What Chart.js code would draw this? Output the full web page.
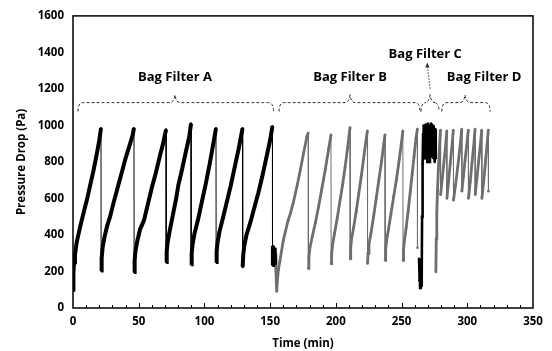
<!DOCTYPE html>
<html>
<head>
<meta charset="utf-8">
<script src="https://cdn.jsdelivr.net/npm/chart.js@4/dist/chart.umd.min.js"></script>
<style>
  html, body { margin: 0; padding: 0; background: #fff; }
  #wrap { width: 552px; height: 351px; }
</style>
</head>
<body>
<div id="wrap"><canvas id="chart" width="552" height="351"></canvas></div>
<script>
// Bag filter A (black)
const timeA = [0, 0.3, 0.8, 1.5, 2.8, 5.3, 8, 10.4, 13, 15.5, 18, 20, 21.3,
  21.4, 21.8, 22.5, 24, 26, 28.2, 31, 34, 37, 40, 43, 45.5, 46.4,
  46.5, 46.9, 47.5, 49, 51, 54, 57, 60, 63, 66, 68.5, 70.8,
  70.9, 71.3, 72, 73.5, 76, 78.5, 80.2, 83, 86, 88.5, 89.8,
  89.9, 90.3, 91, 92.5, 95, 98, 101, 104, 106.5, 108.8,
  108.9, 109.3, 110, 111.5, 114, 117, 120, 123, 126, 129,
  129.1, 129.5, 130.3, 132, 135, 138, 141, 144, 147, 150, 151.7,
  151.8, 152.1, 152.5, 153, 153.4, 153.6, 153.8];
const pressureA = [100, 190, 250, 290, 360, 440, 520, 587, 670, 750, 840, 920, 985,
  206, 270, 330, 390, 450, 500, 580, 660, 740, 820, 890, 950, 985,
  197, 260, 310, 370, 430, 480, 570, 660, 740, 830, 900, 977,
  252, 310, 360, 420, 510, 600, 675, 760, 860, 940, 1010,
  239, 300, 350, 410, 480, 580, 680, 790, 890, 984,
  252, 310, 360, 420, 490, 580, 670, 770, 870, 984,
  225, 290, 340, 400, 470, 550, 630, 720, 820, 920, 995,
  235, 340, 300, 330, 250, 310, 240];

// Bag filter B (grey)
const timeB = [153.8, 154.4, 155, 155.5, 156.3, 157.5, 160, 163.6, 165.5, 167.7, 170.5, 172.8, 175.5, 178, 179,
  179.1, 179.5, 180.3, 182, 184.5, 187, 189.5, 192, 194.5, 196.3,
  196.4, 196.8, 197.6, 199, 201, 203, 205, 207, 209, 210.8,
  210.9, 211.3, 212, 213.5, 215.5, 217.5, 219.5, 221.5, 223, 224,
  224.1, 224.5, 225.2, 226.7, 228.7, 230.7, 232.7, 234.7, 236.5, 237.4,
  237.5, 237.9, 238.6, 240, 242, 244, 246, 248, 250, 251,
  251.1, 251.5, 252.2, 253.5, 255, 256.5, 258, 259.5, 261, 262,
  262.1];
const pressureB = [300, 200, 90, 150, 210, 261, 370, 478, 520, 580, 670, 750, 850, 940, 958,
  217, 280, 330, 390, 470, 560, 660, 760, 870, 949,
  243, 300, 350, 410, 490, 580, 670, 770, 880, 989,
  270, 330, 380, 440, 530, 630, 730, 840, 920, 971,
  244, 300, 350, 410, 500, 600, 700, 800, 900, 949,
  261, 320, 370, 430, 520, 610, 700, 800, 910, 971,
  261, 320, 370, 440, 530, 630, 730, 830, 930, 980,
  330];

// Bag filter C (black)
const timeC = [263.3, 263.6, 263.9, 264.1, 264.4, 264.7, 265, 265.3, 265.6, 266, 266.4, 266.8,
  267.2, 267.6, 268, 268.4, 268.8, 269.2, 269.6, 270, 270.4, 270.8, 271.2, 271.6,
  272, 272.4, 272.8, 273.2, 273.6, 274, 274.4, 274.8, 275.2, 275.6, 276];
const pressureC = [270, 150, 240, 110, 200, 130, 260, 120, 500, 790, 950, 1000,
  850, 980, 820, 1005, 860, 990, 800, 1010, 840, 970, 800, 1000,
  870, 1010, 830, 990, 850, 1000, 820, 960, 800, 980, 820];

// Bag filter D (grey)
const timeD = [276.1, 276.4, 276.8, 277.3, 278, 278.8, 279.6,
  279.7, 280.8, 282, 283.3, 284.4,
  284.5, 285.7, 287, 288.3, 289.4,
  289.5, 291, 292.7, 294.3, 295.8,
  295.9, 297, 298.3, 299.6, 300.8,
  300.9, 302.2, 303.5, 304.8, 305.9,
  306, 307.3, 308.6, 309.9, 311,
  311.1, 312.4, 313.7, 315, 316, 316.1];
const pressureD = [197, 380, 520, 640, 760, 870, 975,
  620, 700, 780, 870, 970,
  600, 690, 790, 880, 975,
  590, 670, 770, 870, 980,
  640, 720, 810, 890, 975,
  600, 690, 790, 880, 980,
  620, 710, 800, 890, 975,
  600, 690, 790, 890, 975, 640];

const xTicks = [0, 50, 100, 150, 200, 250, 300, 350];
const yTicks = [0, 200, 400, 600, 800, 1000, 1200, 1400, 1600];

// brace annotations (data units)
const braces = [
  { from: 3.8, to: 152.5, mid: 77.6, label: "Bag Filter A", lx: 77.6, ly: 1261 },
  { from: 156.8, to: 264, mid: 210.8, label: "Bag Filter B", lx: 210.8, ly: 1261 },
  { from: 264.8, to: 278.5, mid: 271.7, label: "Bag Filter C", lx: 268, ly: 1391 },
  { from: 280.6, to: 317.4, mid: 298.3, label: "Bag Filter D", lx: 312.8, ly: 1261 },
];

const FONT = "'Open Sans', 'DejaVu Sans', sans-serif";

const zip = (xs, ys) => xs.map((x, i) => ({ x, y: ys[i] }));

const series = (data, color, width) => ({
  data,
  showLine: true,
  borderColor: color,
  backgroundColor: color,
  borderWidth: width,
  pointRadius: 1.3,
  pointBorderWidth: 0,
  pointHoverRadius: 0,
  tension: 0,
  segment: {
    // the resets (big drops) are thin lines
    borderWidth: (ctx) => (ctx.p0.parsed.y - ctx.p1.parsed.y > 250 ? 1 : width),
  },
});

const extras = {
  id: "extras",
  afterDraw(chart) {
    const { ctx, chartArea: a, scales } = chart;
    const xs = scales.x, ys = scales.y;
    ctx.save();

    // frame
    ctx.strokeStyle = "#000";
    ctx.lineWidth = 1.5;
    ctx.strokeRect(a.left, a.top, a.right - a.left, a.bottom - a.top);

    // inside x ticks every 10 min
    ctx.lineWidth = 1;
    for (let t = 10; t < 350; t += 10) {
      const px = Math.round(xs.getPixelForValue(t)) + 0.5;
      const len = t % 50 === 0 ? 5 : 3;
      ctx.beginPath();
      ctx.moveTo(px, a.bottom);
      ctx.lineTo(px, a.bottom - len);
      ctx.stroke();
    }

    // braces
    const yL = ys.getPixelForValue(1125);
    ctx.strokeStyle = "#333";
    ctx.lineWidth = 1;
    ctx.setLineDash([3, 2]);
    braces.forEach((b) => {
      const x0 = xs.getPixelForValue(b.from);
      const x1 = xs.getPixelForValue(b.to);
      const xm = xs.getPixelForValue(b.mid);
      const r = 5;
      ctx.beginPath();
      ctx.moveTo(x0, yL + 9);
      ctx.quadraticCurveTo(x0, yL, x0 + r, yL);
      ctx.lineTo(xm - r, yL);
      ctx.quadraticCurveTo(xm - 1, yL, xm, yL - 8);
      ctx.quadraticCurveTo(xm + 1, yL, xm + r, yL);
      ctx.lineTo(x1 - r, yL);
      ctx.quadraticCurveTo(x1, yL, x1, yL + 9);
      ctx.stroke();
    });

    // dotted arrow to "Bag Filter C"
    const ax0 = xs.getPixelForValue(271.7), ay0 = ys.getPixelForValue(1201);
    const ax1 = xs.getPixelForValue(269.6), ay1 = ys.getPixelForValue(1345);
    ctx.setLineDash([1.5, 1.5]);
    ctx.beginPath();
    ctx.moveTo(ax0, ay0);
    ctx.lineTo(ax1, ay1 + 3);
    ctx.stroke();
    ctx.setLineDash([]);
    ctx.fillStyle = "#333";
    ctx.beginPath();
    ctx.moveTo(ax1, ay1);
    ctx.lineTo(ax1 - 2.2, ay1 + 5);
    ctx.lineTo(ax1 + 2.2, ay1 + 5);
    ctx.closePath();
    ctx.fill();

    // labels
    ctx.fillStyle = "#000";
    ctx.font = "bold 13px " + FONT;
    ctx.textAlign = "center";
    ctx.textBaseline = "middle";
    braces.forEach((b) => {
      ctx.fillText(b.label, xs.getPixelForValue(b.lx), ys.getPixelForValue(b.ly));
    });
    ctx.restore();
  },
};

new Chart(document.getElementById("chart"), {
  type: "scatter",
  data: {
    datasets: [
      series(zip(timeA, pressureA), "#000000", 4),
      series(zip(timeB, pressureB), "#6e6e6e", 2.8),
      series(zip(timeC, pressureC), "#000000", 2.6),
      series(zip(timeD, pressureD), "#6e6e6e", 2.8),
    ],
  },
  options: {
    responsive: false,
    animation: false,
    layout: { padding: { top: 13, right: 19, left: 0, bottom: 0 } },
    plugins: { legend: { display: false }, tooltip: { enabled: false } },
    scales: {
      x: {
        type: "linear",
        min: 0,
        max: 350,
        afterBuildTicks: (s) => { s.ticks = xTicks.map((v) => ({ value: v })); },
        afterFit: (s) => { s.height = 43; },
        grid: { display: false, drawTicks: false },
        border: { display: false },
        ticks: {
          color: "#000",
          padding: 7,
          callback: (v) => String(v),
          font: { family: FONT, size: 11.5, weight: "bold" },
        },
        title: {
          display: true,
          text: "Time (min)",
          color: "#000",
          padding: { top: 0, bottom: 0 },
          font: { family: FONT, size: 11.5, weight: "bold" },
        },
      },
      y: {
        min: 0,
        max: 1600,
        afterBuildTicks: (s) => { s.ticks = yTicks.map((v) => ({ value: v })); },
        afterFit: (s) => { s.width = 73; },
        grid: { display: false, drawTicks: false },
        border: { display: false },
        ticks: {
          color: "#000",
          padding: 9,
          callback: (v) => String(v),
          font: { family: FONT, size: 11.5, weight: "bold" },
        },
        title: {
          display: true,
          text: "Pressure Drop (Pa)",
          color: "#000",
          padding: { top: 15, bottom: 0 },
          font: { family: FONT, size: 11.5, weight: "bold" },
        },
      },
    },
  },
  plugins: [extras],
});
</script>
</body>
</html>
